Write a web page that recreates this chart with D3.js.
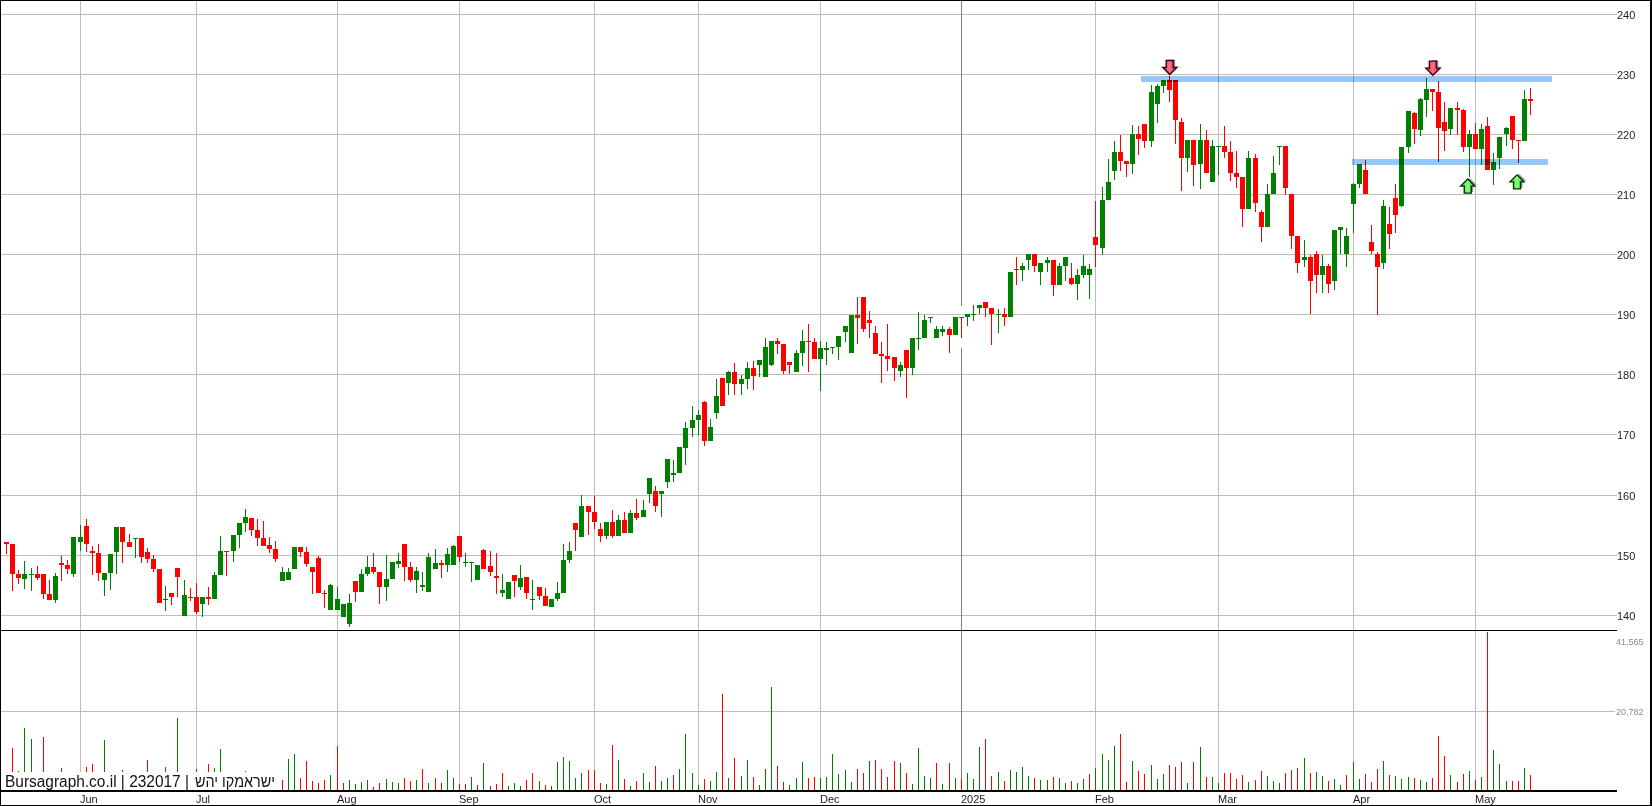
<!DOCTYPE html>
<html>
<head>
<meta charset="utf-8">
<style>
html,body{margin:0;padding:0;background:#fff;overflow:hidden}
svg{display:block}
text{font-family:"Liberation Sans",Arial,sans-serif}
</style>
<script src="https://cdnjs.cloudflare.com/ajax/libs/d3/7.8.5/d3.min.js"></script>
</head>
<body>
<svg id="chart" width="1652" height="806"></svg>
<script>
const highs=[
152.2,151.8,147.5,149,147.8,148.2,146.8,145.8,147,149.8,
149.2,153,155,156,151.5,151.8,147,150.2,154.7,154.7,
153.5,152.8,152.8,151.2,150,147.7,144.8,143.7,147.8,145.8,
144.5,145.3,143,144.7,147.2,153.2,150.7,153.3,155.3,157.7,
156.2,156,155.7,153,152.3,148,147.8,151.3,151.3,151.3,
148,149.8,144.2,145.2,144.7,141.8,143.5,145.7,147.7,149.8,
150.3,147.2,150,148.8,150.3,151.8,148.8,148,147.2,150.4,
151,149.2,151.2,151.7,153.2,150.4,148.9,148.4,151,150.7,
150.4,146.9,145.6,146.7,148.4,146.4,145.9,144.7,144.6,142.7,
145.6,151.9,152.2,155.4,160,158.2,159.9,155.4,155.5,157.5,
156.7,157.2,157.5,159.4,159.2,162.9,161.5,160.7,166,165.8,
168,172.2,174.8,174.2,175.7,172.7,179.3,179.5,180.6,182,
180,182.2,182.3,182.4,186.2,185.6,186.2,185.2,182.2,184.2,
187.4,188.4,186.1,185.6,185.4,184.7,186.4,188.1,189.9,192.9,
192.9,190.6,188.2,185.4,188.4,182.9,182.1,184.1,186.1,190.4,
189.9,189.7,188.1,188.1,187.9,189.7,189.7,190.1,191.6,191.7,
192.1,191.1,190.9,191.1,197.2,199.7,198.6,200.1,200.1,198.7,
199.7,199.1,198.6,199.7,198.7,197.6,199.9,198.4,208.9,211.2,
215.9,218.9,219.9,215.6,221.6,221.4,221.7,228.2,228.4,229.1,
229.7,229.1,222.7,219.1,219.1,221.7,220.7,219.1,218.1,221.4,
218.9,217.2,212.9,217.2,216.7,207.4,211.7,216.4,218.1,218.1,
210.1,203.1,202.4,199.9,200.7,199.9,198.4,204.2,204.6,204.4,
211.9,215.1,215.7,204.9,200.4,209.1,207.9,211.7,217.9,223.9,
223.7,226.1,229.4,227.6,228.9,225.4,224.4,225.4,224.2,220.7,
221.9,221.7,222.9,216.9,219.6,221.2,223.1,219.1,227.4,227.7];
const bodyTops=[
152.2,151.8,146.8,146.8,146.8,146.8,146.8,143.5,146.5,148.7,
148.3,153,153,154.8,150.7,150.3,147,150.2,154.7,154.7,
152.2,152.8,152.8,150.5,149.3,147.7,142.7,143.7,147.8,143.3,
143,143,143,143,146.7,150.7,150.7,153.3,155.3,156.3,
156.2,154.2,152.8,151.7,151,147.2,147.2,151.3,151.3,150.5,
148,149.5,143.7,145,142.7,141.8,142,145.7,146.8,148,
148,147.2,146,148.8,149,151.8,148,147.3,145.1,149.7,
148.7,148.7,150.2,151.5,153.2,148.9,148.9,148.4,150.9,148.1,
146.6,144.2,145.6,146.7,146.2,146.4,142.7,144.7,143.2,142.7,
143.7,149.1,150.6,155.4,158.2,158.2,157.2,154.4,155.5,155.5,
155.9,155.9,157,157,157.5,162.9,160.7,160.7,166,163.7,
168,171.2,172.5,173.3,175.5,171.3,176.5,179.5,180.5,180.5,
179.3,181.2,181.2,182.4,184.7,185.6,185.6,185.1,182.1,183.6,
185.6,185.6,185.4,184.4,184.4,184.6,186.4,188.1,189.9,189.9,
192.9,189.2,186.9,183.4,183.2,182.9,181.7,184.1,186.1,186.2,
189.2,189.7,187.7,187.7,187.7,189.7,189.7,190.1,190.2,191.6,
192.1,191.1,190.1,190.1,197.2,197.6,198.1,200.1,200.1,198.7,
199.1,199.1,198.1,199.7,196.1,196.6,198.1,197.6,202.9,209.1,
212.1,217.1,217.1,215.6,220.1,220.1,221.7,227.1,228.1,229.1,
229.1,229.1,222.1,219.1,219.1,219.1,219.1,218.1,218.1,218.1,
217.1,213.6,212.9,216.1,216.1,207.1,210.1,213.6,218.1,218.1,
210.1,203.1,199.6,199.6,200.1,198.2,198.2,204.2,204.6,203.1,
211.7,215.1,214.1,202.1,200.1,208.1,205.1,209.4,217.9,223.9,
223.6,225.9,227.6,227.6,227.1,222.1,224.4,224.4,224.1,220.1,
220.1,220.9,221.4,215.4,219.6,221.1,223.1,219.1,225.9,225.9];
const bodyBottoms=[
151.8,146.8,146.2,146,146.7,146.2,143.5,142.5,142.5,148.3,
147.7,146.8,152.2,151.8,150.3,147,145.8,147,150.5,152.2,
151.3,152.7,149.7,149.3,147.7,142,142.5,143,146.3,139.8,
142.8,140.5,141.8,142.7,142.7,146.7,150.5,150.7,153.3,155.3,
154.2,152.8,151.5,151,149.3,145.7,145.8,147.7,150.5,148.5,
147.2,143.7,143.5,140.8,140.8,139.7,138.5,143.8,143.8,146.8,
147.2,144.7,144.7,146,148.5,148,145.8,145.8,144.7,143.9,
147.7,148.4,148.4,148.4,149.7,148.6,148.6,145.9,147.7,147.2,
146.2,143.7,142.7,145.7,144.7,143.7,142.6,143.2,141.6,141.4,
142.7,143.7,149.1,154.2,153,157.2,155.5,153.2,153.2,153.2,
153.2,153.7,153.7,156.2,156.4,160.2,158.2,160.2,162.2,163.4,
163.7,167.8,171.2,172.5,169,169,173.7,174.8,178.7,178.5,
178.5,179.3,179.8,181.6,179.6,181.7,185.1,180.6,181.7,180.4,
183.6,185.4,182.7,182.7,184.2,184.4,184.6,187.2,183.6,189.4,
187.6,188.7,183.4,183.2,182.7,181.1,180.6,181.1,181.1,186.1,
186.2,189.6,186.1,187.1,186.6,186.6,189.6,189.6,190.1,191.1,
191.1,190.1,189.9,189.6,189.6,197.4,197.4,199.1,198.1,197.2,
198.7,194.9,194.9,198.1,195.2,195.2,196.6,196.7,201.7,201.2,
209.1,213.9,215.6,215.1,215.1,219.2,218.9,218.9,225.1,228.1,
227.4,222.4,216.1,216.1,214.9,215.1,213.6,212.1,217.9,217.1,
213.6,212.9,207.6,207.6,208.7,204.6,204.6,210.1,217.9,211.1,
203.1,198.7,199.1,195.7,196.6,196.6,195.2,195.7,204.2,200.2,
208.4,211.7,210.1,200.6,197.9,198.7,203.4,206.6,208.2,217.9,
220.9,220.7,225.7,227.1,221.1,220.6,220.9,224.1,217.9,217.9,
217.6,217.6,214.1,214.1,216.1,220.1,219.1,218.9,218.9,225.6];
const lows=[
150.2,144,145.2,144.3,144,145.8,142.7,142.5,142,145.7,
146.8,146.3,150.7,150.5,146.7,145.7,143.2,144.2,146.8,148.7,
151.3,149.5,148.7,148.7,147.2,142,140.7,141.7,143,139.8,
142.3,140.2,139.7,141.7,142.7,146.7,146.5,148.8,151.2,153.8,
153.2,151.5,151.5,150.3,148.8,145.7,145.8,147.7,149.7,148,
143.5,143.7,141.2,140.8,140.8,139.7,138,142.2,143.8,146.5,
146.8,141.8,142.3,146,147.8,145.7,145.5,143.7,144.1,143.9,
147.7,146.2,147.2,148.4,148.9,148,145.6,145.9,147.7,146.6,
143.6,143.1,142.7,143.1,144.2,142.7,140.9,142.6,141.6,141.4,
142.4,143.7,148.7,150.7,153,153.4,154.4,152.2,152.7,152.9,
153.2,153.7,153.7,155.9,156.4,158.7,157.2,156.4,161.2,162.2,
163.7,165,169.7,170,168.2,169,172.7,174.8,176.7,176.7,
176.7,177.6,177.5,179.6,179.6,181.4,183.4,180.1,180.2,180.4,
181.4,180.4,182.7,177.4,181.6,183.4,182.4,185.4,183.6,185.2,
187.2,186.1,183.4,178.7,180.7,178.9,179.6,176.1,179.9,184.1,
186.2,188.6,186.1,186.4,183.7,186.6,186.1,188.1,188.9,190.1,
189.6,184.9,186.9,188.1,189.6,194.9,195.7,197.4,197.1,194.9,
197.1,193.1,194.9,195.6,194.9,192.4,196.1,192.6,197.9,199.9,
209.1,212.4,213.9,212.9,213.4,216.6,217.7,217.9,221.9,226.9,
225.4,218.4,210.6,213.7,211.4,210.9,213.6,212.1,213.2,216.1,
212.2,211.1,204.7,207.6,207.1,202.1,204.6,210.1,214.9,209.9,
200.9,196.9,197.9,190.1,193.6,193.6,193.7,194.1,200.1,197.9,
203.7,211.1,210.1,200.1,189.9,197.6,200.9,203.6,207.9,216.9,
218.4,219.7,222.9,223.9,215.4,217.2,219.9,219.9,217.1,212.9,
217.6,214.9,214.1,211.6,214.2,218.1,217.6,215.2,218.9,223.2];
// r = falling candle, g = rising candle
const candleDirRows=[
"rrrggrrrgr","rggrrrgggr","rgrrrrgrrg","rrgrggrggg","rrrrrgggrr",
"rrrggggrgg","rrgggrrggg","grggrgggrr","rggrgrgrrg","gggrgrrrgr",
"grgrggrggg","ggggrggrgr","ggrgggrrrg","grrggggggr","rrrrrrgrgg",
"ggggrgrggg","rrgrgrggrg","grggrgggrg","ggrrgrrggg","rrrgrgrggr",
"rrrgrrgggr","rrgrrgrggg","ggrrrgrrgg","rggrrrgrrg","rgrgggrrgr"];
const volumes=[
3000,11220,5220,16440,13570,2800,14090,2600,3200,6000,
2400,3000,4000,6260,7050,2200,13310,3000,3600,5480,
2000,2800,3000,8090,3000,2600,6260,2500,19050,3500,
2800,5740,2800,7050,6000,10960,3000,3200,2700,5220,
3300,2800,3100,2400,3000,2870,8350,9660,3390,7830,
2610,2090,2870,4180,11750,2090,2870,1830,2350,2870,
1040,2090,3130,2350,2090,3390,2610,2870,5740,2090,
3390,2090,5480,3390,1830,1830,3650,1570,7310,1310,
1830,4700,1310,2090,1310,2870,4700,2610,1570,1310,
7570,8870,7830,3390,4700,5480,5480,2090,1830,12010,
8090,3130,1310,2610,4700,2350,6530,2610,3390,4180,
5740,14880,4700,1570,3130,2610,4960,25320,3390,8610,
3920,8090,3650,1570,5740,27140,6530,2350,1570,3390,
7570,3390,3650,3390,3650,9660,4440,5480,2350,5740,
4700,7830,8090,5740,3650,7830,7310,4700,1830,11220,
3920,3390,7310,1830,7310,3390,3130,4700,3130,11480,
13570,3920,4960,2610,5480,4960,6260,3920,3390,2870,
2870,3650,3390,2090,2610,2090,3130,4440,6000,9660,
8090,11750,14880,2350,7830,5220,4440,6790,3130,4440,
6790,6260,7570,2090,7570,11480,3650,3650,2090,4700,
4700,3130,4180,2350,2870,5220,3920,2610,2090,4700,
5480,6000,8610,4700,4960,3920,2610,3130,1570,4180,
7570,3130,4440,2350,5740,7830,4180,3920,3130,3650,
3390,2870,2350,3390,14360,9140,4180,2350,4440,5220,
2870,3650,41500,10700,7050,2610,2610,2610,6000,4180];
const volumeDirRows=[
"rrrggrrrgg","rggrrrgggr","rgrrrrgrgr","rrgrggrggg","rrrrrrggrr",
"rrrgrrgggg","rrgggrrgrg","rrggrrgrgr","rrgggrrgrg","gggggrrrgr",
"grgrggrggr","ggggrggrgr","ggrgggrrgg","grrggggggr","rgrrrrgrgg",
"ggrgrgrggg","rrgrggggrg","grggrggrgg","ggrrgrrggg","rrrgrgrggr",
"rrrgrrgggr","rrgrggrggr","ggrrrgrggg","rggrrrgrrg","rgrgggrrgr"];
const priceTicks=[140,150,160,170,180,190,200,210,220,230,240];
const volumeTicks=[20782,41565];
const monthLabels=["Jun","Jul","Aug","Sep","Oct","Nov","Dec","2025","Feb","Mar","Apr","May"];
const monthIndex=[12,31,54,74,96,113,133,156,178,198,220,240];
const titleLatin="Bursagraph.co.il | 232017 |";
const titleHebrew="ישראמקו יהש";
const levelPrices=[229.23,215.4];
const levelStarts=[185.4,219.8];
const levelEnds=[252.5,251.9];
const downSignals=[190,233];
const downSignalPrices=[230,229.9];
const upSignals=[238.75,246.8];
const upSignalPrices=[212.6,213.3];

const GREEN="#008000",RED="#ff0000",GRID="#c0bdb8",YEAR="#808080";
const svg=d3.select("#chart");
svg.append("rect").attr("width",1652).attr("height",806).attr("fill","#fff");
const x=d3.scaleLinear().domain([0,249]).range([6.61,1530.49]);
const y=d3.scaleLinear().domain([240,140]).range([14.5,615.15]);
const v=d3.scaleLinear().domain([0,41565]).range([791,632]);
const col=i=>Math.floor(x(i));
const cDirs=candleDirRows.join("").split("");
const vDirs=volumeDirRows.join("").split("");

const defs=svg.append("defs");
function grad(id,edge,mid){
  const g=defs.append("linearGradient").attr("id",id);
  g.append("stop").attr("offset","0%").attr("stop-color",edge);
  g.append("stop").attr("offset","50%").attr("stop-color",mid);
  g.append("stop").attr("offset","100%").attr("stop-color",edge);
}
grad("gUp","#1fe01f","#8cff80");
grad("gDown","#f0203f","#ff7088");

// grid
const grid=svg.append("g").attr("shape-rendering","crispEdges");
grid.selectAll(".h").data(priceTicks).join("rect")
  .attr("x",1).attr("width",1616).attr("height",1)
  .attr("y",d=>Math.floor(y(d))).attr("fill",GRID);
grid.append("rect").attr("x",1).attr("width",1614).attr("height",1)
  .attr("y",Math.floor(v(volumeTicks[0]))).attr("fill",GRID);
grid.selectAll(".v").data(monthIndex).join("rect")
  .attr("x",d=>col(d)).attr("width",1).attr("y",1).attr("height",789)
  .attr("fill",(d,i)=>monthLabels[i]==="2025"?YEAR:GRID);
// gap in the year line around its candle
grid.append("rect").attr("x",col(156)).attr("width",1)
  .attr("y",Math.round(y(191.5))).attr("height",Math.round(y(184.5))-Math.round(y(191.5)))
  .attr("fill","#fff");

// volume
svg.append("g").attr("shape-rendering","crispEdges")
  .selectAll("rect").data(volumes).join("rect")
  .attr("x",(d,i)=>col(i)).attr("width",1)
  .attr("y",d=>Math.round(v(d))).attr("height",d=>791-Math.round(v(d)))
  .attr("fill",(d,i)=>vDirs[i]==="g"?GREEN:RED);

// candles
const candles=svg.append("g").attr("shape-rendering","crispEdges");
const idx=d3.range(highs.length);
candles.selectAll(".w").data(idx).join("rect")
  .attr("x",i=>col(i)).attr("width",1)
  .attr("y",i=>Math.round(y(highs[i])))
  .attr("height",i=>Math.max(1,Math.round(y(lows[i]))-Math.round(y(highs[i]))))
  .attr("fill",i=>cDirs[i]==="g"?GREEN:RED);
candles.selectAll(".b").data(idx).join("rect")
  .attr("x",i=>col(i)-2).attr("width",5)
  .attr("y",i=>Math.round(y(bodyTops[i])))
  .attr("height",i=>Math.max(1,Math.round(y(bodyBottoms[i]))-Math.round(y(bodyTops[i]))))
  .attr("fill",i=>cDirs[i]==="g"?GREEN:RED);

// support / resistance levels
svg.append("g").attr("shape-rendering","crispEdges").style("mix-blend-mode","multiply")
  .selectAll("rect").data(levelPrices).join("rect")
  .attr("x",(d,i)=>x(levelStarts[i])).attr("width",(d,i)=>x(levelEnds[i])-x(levelStarts[i]))
  .attr("y",d=>Math.round(y(d))-3).attr("height",6).attr("fill","#94c8fa");

// signal arrows
const upShape=[[0,0],[7,7],[3.5,7],[3.5,14],[-3.5,14],[-3.5,7],[-7,7]];
const downShape=upShape.map(p=>[p[0],-p[1]]);
const line=d3.line().curve(d3.curveLinearClosed);
function arrow(cx,cy,shape,fill,stroke){
  const g=svg.append("g").attr("transform",`translate(${cx},${cy})`);
  g.append("path").attr("d",line(shape)).attr("transform","translate(2,-1)").attr("fill","#999");
  g.append("path").attr("d",line(shape)).attr("fill",`url(#${fill})`)
    .attr("stroke",stroke).attr("stroke-width",1.4);
}
downSignals.forEach((s,i)=>arrow(x(s)+.3,y(downSignalPrices[i]),downShape,"gDown","#3a0410"));
upSignals.forEach((s,i)=>arrow(x(s),y(upSignalPrices[i]),upShape,"gUp","#042e04"));

// frame
const frame=svg.append("g").attr("shape-rendering","crispEdges").attr("fill","#000");
frame.append("rect").attr("x",0).attr("y",0).attr("width",1652).attr("height",1);
frame.append("rect").attr("x",0).attr("y",0).attr("width",1).attr("height",806);
frame.append("rect").attr("x",1650).attr("y",0).attr("width",2).attr("height",806);
frame.append("rect").attr("x",0).attr("y",805).attr("width",1652).attr("height",1);
frame.append("rect").attr("x",0).attr("y",630).attr("width",1617).attr("height",1);

// title with its white plate
svg.append("rect").attr("x",5).attr("y",772).attr("width",275).attr("height",18).attr("fill","#fff");
frame.append("rect").attr("x",0).attr("y",790).attr("width",1617).attr("height",2);
svg.append("text").attr("x",5).attr("y",787).attr("font-size",16).attr("fill","#111")
  .attr("textLength",184).attr("lengthAdjust","spacingAndGlyphs").text(titleLatin);
svg.append("text").attr("x",195).attr("y",787).attr("font-size",16).attr("fill","#111")
  .attr("textLength",80).attr("lengthAdjust","spacingAndGlyphs").text(titleHebrew);

// axis labels
svg.selectAll(".pl").data(priceTicks).join("text")
  .attr("x",1617).attr("y",d=>Math.floor(y(d))+4.5)
  .attr("font-size",11).attr("fill","#222").text(d=>d);
svg.selectAll(".vl").data(volumeTicks).join("text")
  .attr("x",1616).attr("y",d=>d===volumeTicks[1]?645:Math.floor(v(d))+3.5)
  .attr("font-size",9).attr("fill","#888").text(d3.format(","));
svg.selectAll(".ml").data(monthLabels).join("text")
  .attr("x",(d,i)=>col(monthIndex[i])).attr("y",803)
  .attr("font-size",11).attr("fill","#222").text(d=>d);
</script>
</body>
</html>
